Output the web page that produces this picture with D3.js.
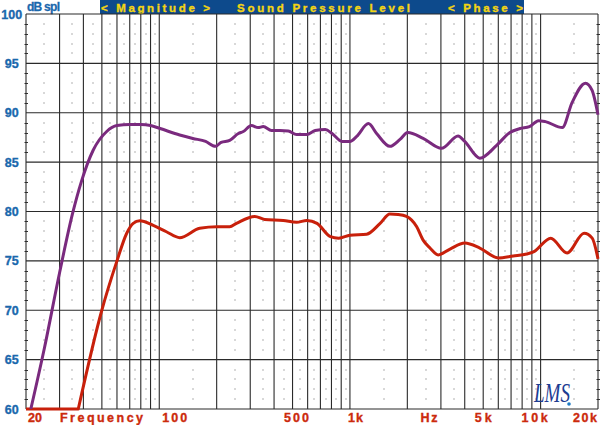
<!DOCTYPE html>
<html><head><meta charset="utf-8">
<script src="https://cdn.jsdelivr.net/npm/d3@7/dist/d3.min.js"></script>
<style>body{margin:0;background:#fff}svg{display:block}</style>
</head><body>
<svg id="c" width="600" height="425"></svg>
<script>
// ---- data ----
const freqGrid = [20,30,40,50,60,70,80,90,100,200,300,400,500,600,700,800,900,1000,2000,3000,4000,5000,6000,7000,8000,9000,10000,20000];
const freqMinor = [25,35,45,55,65,75,85,95,150,250,350,450,550,650,750,850,950,1500,2500,3500,4500,5500,6500,7500,8500,9500,15000];
const dbTicks = [60,65,70,75,80,85,90,95,100];
const xLabels = ["20","Frequency","100","500","1k","Hz","5k","10k","20k"];
const headerTexts = ["< Magnitude >","Sound Pressure Level","< Phase >"];

const purpleFreq = [21.2,25,30,35,39,45,53,60,70,80,90,101,128,150,175,197,211,234,260,276,304,330,351,388,429,475,525,594,657,743,806,910,1000,1085,1250,1380,1620,1830,2010,2420,3020,3690,4000,4800,5880,6900,7800,8740,9750,10600,13000,14600,17200,18600,20000];
const purpleDb   = [60,66.2,73.8,79.7,83.0,86.2,88.1,88.7,88.8,88.8,88.7,88.4,87.75,87.4,87.1,86.6,87.0,87.2,87.9,88.1,88.7,88.5,88.6,88.2,88.2,88.15,87.8,87.8,88.2,88.3,87.9,87.1,87.1,87.6,88.9,87.9,86.6,87.3,88.0,87.4,86.4,87.65,87.1,85.4,86.7,88.0,88.4,88.6,89.2,89.1,88.5,91.0,93.0,92.3,89.8];

const redFreq = [20,37.6,49.8,60,67.5,73,79,93,109,128,163,201,234,254,317,357,447,525,594,672,790,873,1000,1223,1440,1620,1790,1980,2240,2420,2630,2900,3350,4000,4800,5990,7190,8460,9170,11300,13770,16900,18650,20000];
const redDb   = [60,60,69.9,75.0,77.8,78.8,79.07,78.6,77.95,77.35,78.3,78.45,78.45,78.8,79.5,79.2,79.1,78.9,79.1,78.8,77.45,77.3,77.6,77.7,78.8,79.75,79.7,79.5,78.45,77.1,76.3,75.6,76.2,76.8,76.3,75.3,75.5,75.7,75.9,77.3,75.8,77.8,77.3,75.2];

// ---- layout ----
const L = 26, R = 598, T = 14, B = 409;
const FONT = "'Liberation Sans', Arial, Helvetica, sans-serif";
const svg = d3.select("#c");
svg.append("rect").attr("width",600).attr("height",425).attr("fill","#fff");
const x = d3.scaleLog().domain([20,20000]).range([L,R]);
const y = d3.scaleLinear().domain([60,100]).range([B,T]);

// header bar
svg.append("rect").attr("x",100).attr("y",0).attr("width",424).attr("height",T).attr("fill","#0d4a8c");
const hdrLayout = [{x:101,len:109},{x:237,len:173},{x:448,len:75}];
headerTexts.forEach((t,i)=>{
  svg.append("text").attr("x",hdrLayout[i].x).attr("y",11.5)
    .attr("textLength",hdrLayout[i].len).attr("lengthAdjust","spacing")
    .attr("font-family",FONT).attr("font-weight","bold")
    .attr("font-size",11.5).attr("fill","#f3d512").attr("stroke","#f3d512").attr("stroke-width",0.35).text(t);
});
svg.append("text").attr("x",27).attr("y",11).attr("textLength",33)
  .attr("font-family",FONT).attr("font-weight","bold")
  .attr("font-size",12).attr("fill","#1a68ad").attr("stroke","#1a68ad").attr("stroke-width",0.3).text("dB spl");

// minor dots
const dotRows = d3.range(61,100).filter(d=>d%5!==0);
const gDots = svg.append("g").attr("fill","#666");
freqMinor.forEach(f=>{
  dotRows.forEach(d=>{
    gDots.append("rect").attr("x",Math.round(x(f))-0.5).attr("y",Math.round(y(d))-0.5).attr("width",1).attr("height",1);
  });
});
// edge ticks
const gTicks = svg.append("g").attr("stroke","#333").attr("stroke-width",1);
dotRows.forEach(d=>{
  [L,R].forEach(px=>{
    gTicks.append("line").attr("x1",px-1.5).attr("x2",px+2).attr("y1",Math.round(y(d))+0.5).attr("y2",Math.round(y(d))+0.5);
  });
});

// grid
const gGrid = svg.append("g").attr("stroke","#2a2a2a").attr("stroke-width",1.1);
freqGrid.forEach(f=>{
  gGrid.append("line").attr("x1",x(f)).attr("x2",x(f)).attr("y1",T).attr("y2",B);
});
dbTicks.forEach(d=>{
  gGrid.append("line").attr("x1",L).attr("x2",R).attr("y1",y(d)).attr("y2",y(d));
});

// y labels
dbTicks.forEach(d=>{
  svg.append("text").attr("x",11.8).attr("y",y(d)+4.5).attr("text-anchor","middle")
    .attr("font-family",FONT).attr("font-weight","bold")
    .attr("font-size",12.5).attr("fill","#1a68ad").attr("stroke","#1a68ad").attr("stroke-width",0.35).text(d);
});

// x labels
const xLabLayout = [
  {f:20,anchor:"start",dx:2,len:14},
  {f:20,anchor:"start",dx:34,len:83},
  {f:100,anchor:"start",dx:3,len:25},
  {f:500,anchor:"middle",dx:4,len:25},
  {f:1000,anchor:"start",dx:-2,len:15},
  {f:2600,anchor:"middle",dx:0,len:17},
  {f:5000,anchor:"middle",dx:0,len:17},
  {f:10000,anchor:"middle",dx:-6,len:26},
  {f:20000,anchor:"end",dx:-1,len:24}
];
xLabels.forEach((t,i)=>{
  const o = xLabLayout[i];
  svg.append("text").attr("x",x(o.f)+o.dx).attr("y",422).attr("text-anchor",o.anchor)
    .attr("textLength",o.len).attr("lengthAdjust","spacing")
    .attr("font-family",FONT).attr("font-weight","bold")
    .attr("font-size",12.5).attr("fill","#cc2a0c").attr("stroke","#cc2a0c").attr("stroke-width",0.35).text(t);
});

// curves
const line = d3.line().x(d=>x(d[0])).y(d=>y(d[1])).curve(d3.curveMonotoneX);
const lineLin = d3.line().x(d=>x(d[0])).y(d=>y(d[1]));
const redPts = redFreq.map((f,i)=>[f,redDb[i]]);
const redPath = lineLin(redPts.slice(0,2)) + line(redPts.slice(1)).replace(/^M/,"L");
svg.append("path").attr("d",redPath).attr("fill","none").attr("stroke","#c8200b").attr("stroke-width",3)
  .attr("stroke-linejoin","round").attr("stroke-linecap","butt");
svg.append("path").datum(purpleFreq.map((f,i)=>[f,purpleDb[i]]))
  .attr("d",line).attr("fill","none").attr("stroke","#7a2a7e").attr("stroke-width",3)
  .attr("stroke-linejoin","round").attr("stroke-linecap","butt");

// logo
svg.append("text").attr("x",534).attr("y",402).attr("font-family","'Liberation Serif', serif")
  .attr("font-style","italic").attr("font-size",27).attr("fill","#1d3c92")
  .attr("textLength",36).attr("lengthAdjust","spacingAndGlyphs").text("LMS");
svg.append("circle").attr("cx",569).attr("cy",404).attr("r",1.8).attr("fill","#1f7cc4");
</script>
</body></html>
